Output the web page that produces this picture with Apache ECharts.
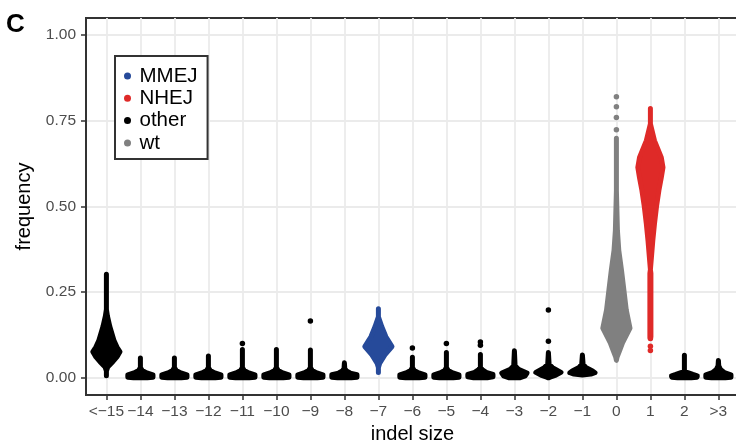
<!DOCTYPE html>
<html>
<head>
<meta charset="utf-8">
<script src="https://cdn.jsdelivr.net/npm/echarts@6/dist/echarts.min.js"></script>
<style>
  html, body { margin: 0; padding: 0; background: #fff; }
  #chart { width: 736px; height: 446px; }
</style>
</head>
<body>
<div id="chart"></div>
<script>
// indel size categories, left to right
const categories = ['<\u221215', '\u221214', '\u221213', '\u221212', '\u221211', '\u221210', '\u22129', '\u22128', '\u22127',
  '\u22126', '\u22125', '\u22124', '\u22123', '\u22122', '\u22121', '0', '1', '2', '>3'];

const groupOf = ['other', 'other', 'other', 'other', 'other', 'other', 'other', 'other', 'MMEJ',
  'other', 'other', 'other', 'other', 'other', 'other', 'wt', 'NHEJ', 'other', 'other'];

const groupNames = ['MMEJ', 'NHEJ', 'other', 'wt'];

// swarm outline per category: [frequency, half width of swarm in category units], top to bottom
const profiles = [
  [[0.302, 0], [0.20, 0], [0.18, 0.03], [0.15, 0.10], [0.11, 0.22], [0.09, 0.31], [0.076, 0.40], [0.061, 0.31], [0.047, 0.19], [0.032, 0.04], [0.02, 0], [0.006, 0]],
  [[0.058, 0], [0.03, 0], [0.022, 0.05], [0.015, 0.17], [0.009, 0.37], [0.002, 0.37], [0.0, 0.2]],
  [[0.058, 0], [0.03, 0], [0.022, 0.05], [0.015, 0.17], [0.009, 0.37], [0.002, 0.37], [0.0, 0.2]],
  [[0.064, 0], [0.03, 0], [0.022, 0.05], [0.015, 0.17], [0.009, 0.37], [0.002, 0.37], [0.0, 0.2]],
  [[0.083, 0], [0.03, 0], [0.022, 0.05], [0.015, 0.17], [0.009, 0.37], [0.002, 0.37], [0.0, 0.2]],
  [[0.083, 0], [0.03, 0], [0.022, 0.05], [0.015, 0.17], [0.009, 0.37], [0.002, 0.37], [0.0, 0.2]],
  [[0.081, 0], [0.03, 0], [0.022, 0.05], [0.015, 0.17], [0.009, 0.37], [0.002, 0.37], [0.0, 0.2]],
  [[0.044, 0], [0.028, 0.01], [0.02, 0.06], [0.014, 0.17], [0.009, 0.37], [0.002, 0.37], [0.0, 0.2]],
  [[0.202, 0], [0.178, 0], [0.149, 0.10], [0.12, 0.22], [0.091, 0.40], [0.067, 0.19], [0.043, 0.04], [0.03, 0], [0.016, 0]],
  [[0.06, 0], [0.03, 0], [0.022, 0.05], [0.015, 0.17], [0.009, 0.37], [0.002, 0.37], [0.0, 0.2]],
  [[0.074, 0], [0.03, 0], [0.022, 0.05], [0.015, 0.17], [0.009, 0.37], [0.002, 0.37], [0.0, 0.2]],
  [[0.068, 0], [0.032, 0], [0.024, 0.05], [0.016, 0.17], [0.01, 0.37], [0.003, 0.37], [0.0, 0.2]],
  [[0.079, 0], [0.035, 0.02], [0.025, 0.12], [0.014, 0.37], [0.006, 0.32], [0.0, 0.15]],
  [[0.074, 0], [0.04, 0.02], [0.03, 0.12], [0.016, 0.37], [0.008, 0.22], [0.002, 0.05], [0.0, 0]],
  [[0.067, 0], [0.04, 0.02], [0.03, 0.1], [0.02, 0.3], [0.015, 0.37], [0.011, 0.25], [0.008, 0]],
  [[0.699, 0], [0.546, 0], [0.43, 0.03], [0.372, 0.07], [0.314, 0.15], [0.256, 0.22], [0.198, 0.29], [0.145, 0.40], [0.102, 0.18], [0.081, 0.10], [0.061, 0.02], [0.051, 0]],
  [[0.786, 0], [0.741, 0], [0.692, 0.12], [0.643, 0.32], [0.614, 0.37], [0.584, 0.32], [0.547, 0.25], [0.50, 0.18], [0.45, 0.12], [0.40, 0.07], [0.352, 0.03], [0.316, 0], [0.305, 0.015], [0.12, 0.015], [0.115, 0]],
  [[0.066, 0], [0.022, 0], [0.016, 0.08], [0.01, 0.25], [0.006, 0.38], [0.002, 0.37], [0.0, 0.2]],
  [[0.051, 0], [0.035, 0.01], [0.025, 0.06], [0.015, 0.18], [0.009, 0.37], [0.002, 0.37], [0.0, 0.2]]
];

// isolated points above or below the swarms
const outlierCat = ['\u221211', '\u22129', '\u22126', '\u22125', '\u22124', '\u22124', '\u22122', '\u22122',
  '0', '0', '0', '0', '1', '1', '1'];
const outlierFreq = [0.10, 0.166, 0.087, 0.10, 0.105, 0.095, 0.198, 0.107,
  0.82, 0.791, 0.76, 0.724, 0.115, 0.092, 0.08];

const yTicks = [0, 0.25, 0.5, 0.75, 1];
const groupColors = { MMEJ: '#264a9a', NHEJ: '#df2a28', other: '#000000', wt: '#808080' };

const font = 'Liberation Sans, Arial, Helvetica, sans-serif';
const chart = echarts.init(document.getElementById('chart'), null, { renderer: 'canvas' });

function swarmRenderer(color) {
  return function (params, api) {
    const i = api.value(0);
    const prof = profiles[i];
    const right = prof.map(p => api.coord([i + p[1], p[0]]));
    const left = prof.slice().reverse().map(p => api.coord([i - p[1], p[0]]));
    return {
      type: 'polygon',
      shape: { points: right.concat(left) },
      style: { fill: color, stroke: color, lineWidth: 5, lineJoin: 'round' }
    };
  };
}

const series = [];
groupNames.forEach(g => {
  const idx = [];
  groupOf.forEach((gr, i) => { if (gr === g) idx.push([i, 0]); });
  series.push({
    name: g,
    type: 'custom',
    renderItem: swarmRenderer(groupColors[g]),
    itemStyle: { color: groupColors[g] },
    data: idx,
    silent: true
  });
  const pts = [];
  outlierCat.forEach((c, k) => {
    const i = categories.indexOf(c);
    if (groupOf[i] === g) pts.push([i, outlierFreq[k]]);
  });
  if (pts.length) {
    series.push({
      name: g,
      type: 'scatter',
      symbol: 'circle',
      symbolSize: 5.5,
      itemStyle: { color: groupColors[g], opacity: 1 },
      data: pts,
      silent: true
    });
  }
});

var option = {
  backgroundColor: '#ffffff',
  animation: false,
  graphic: [{
    type: 'text', left: 6, top: 12,
    style: { text: 'C', font: 'bold 26px ' + font, fill: '#000' }
  }],
  legend: {
    data: groupNames,
    orient: 'vertical',
    left: 115, top: 56,
    icon: 'circle',
    itemWidth: 14, itemHeight: 7,
    itemGap: 0.3,
    padding: [9, 10, 5, 9],
    borderColor: '#333', borderWidth: 2,
    backgroundColor: '#fff',
    textStyle: { fontFamily: font, fontSize: 20.5, color: '#000', lineHeight: 22 }
  },
  grid: {
    left: 86, top: 18, width: 652.8, height: 377,
    show: true, borderColor: '#333', borderWidth: 2,
    outerBoundsMode: 'none'
  },
  xAxis: {
    type: 'value',
    min: -0.6, max: 18.6,
    name: 'indel size',
    nameLocation: 'middle',
    nameGap: 29,
    nameTextStyle: { fontFamily: font, fontSize: 20, color: '#000' },
    axisLine: { show: true, onZero: false, lineStyle: { color: '#333', width: 2 } },
    axisTick: { show: true, length: 5, customValues: categories.map((c, i) => i), lineStyle: { color: '#333', width: 1.5 } },
    axisLabel: {
      customValues: categories.map((c, i) => i),
      formatter: v => categories[Math.round(v)],
      fontFamily: font, fontSize: 15.5, color: '#4d4d4d', margin: 9
    },
    splitLine: { show: true, lineStyle: { color: '#ebebeb', width: 1.8 } }
  },
  yAxis: {
    type: 'value',
    min: -0.05, max: 1.05,
    name: 'frequency',
    nameLocation: 'middle',
    nameGap: 50,
    nameTextStyle: { fontFamily: font, fontSize: 20, color: '#000' },
    axisLine: { show: true, onZero: false, lineStyle: { color: '#333', width: 2 } },
    axisTick: { show: true, length: 5, customValues: yTicks, lineStyle: { color: '#333', width: 1.5 } },
    axisLabel: {
      customValues: yTicks,
      formatter: v => v.toFixed(2),
      fontFamily: font, fontSize: 15.5, color: '#4d4d4d', margin: 10
    },
    splitLine: { show: true, lineStyle: { color: '#ebebeb', width: 1.8 } }
  },
  series: series
};

chart.setOption(option);
</script>
</body>
</html>
